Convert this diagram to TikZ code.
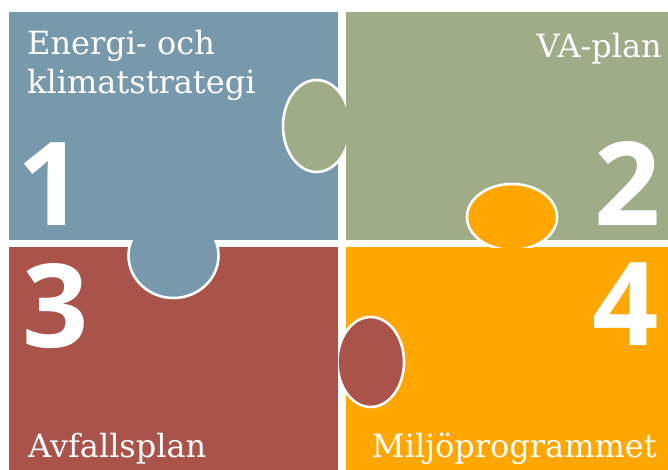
\documentclass[tikz,border=0pt]{standalone}
\usepackage{fontspec}
\setmainfont{DejaVu Serif}
\newfontfamily\digitfont{Open Sans}
\definecolor{pieceblue}{HTML}{7899AC}
\definecolor{piecegreen}{HTML}{9FAC88}
\definecolor{piecered}{HTML}{A9534A}
\definecolor{pieceorange}{HTML}{FFA600}
\begin{document}
\begin{tikzpicture}[x=1pt,y=-1pt]
\tikzstyle{every node}+=[inner sep=0pt,text=white]
\tikzstyle{knob}=[draw=white,line width=2.6pt]
\tikzstyle{title}=[font=\fontsize{32}{39}\selectfont,align=left]
\tikzstyle{digit}=[font=\digitfont\bfseries\fontsize{116}{116}\selectfont]
\useasboundingbox (0,0) rectangle (668,470);
\fill [white] (0,0) rectangle (668,470);
\fill [pieceblue] (9,12) rectangle (338,240);
\fill [piecegreen] (346,12) rectangle (668,240);
\fill [piecered] (9,247) rectangle (338,470);
\fill [pieceorange] (346,247) rectangle (668,470);
\begin{scope}
\clip (0,0) rectangle (346,470);
\draw [knob,fill=piecegreen] (316.6,126) ellipse (33.6 and 46);
\end{scope}
\begin{scope}
\clip (0,0) rectangle (668,247);
\draw [knob,fill=pieceorange] (512,217) ellipse (45 and 33);
\end{scope}
\begin{scope}
\clip (0,240) rectangle (668,470);
\draw [knob,fill=pieceblue] (173.5,255.5) ellipse (45 and 42.5);
\end{scope}
\begin{scope}
\clip (338,0) rectangle (668,470);
\draw [knob,fill=piecered] (370.7,362) ellipse (33.3 and 45);
\end{scope}
\node [title,anchor=base west] (energi) at (27,94) {Energi- och\\klimatstrategi};
\node [title,anchor=base east] (vaplan) at (662,58) {VA-plan};
\node [title,anchor=base west] (avfall) at (28,457) {Avfallsplan};
\node [title,anchor=base east] (miljo) at (657,457) {Miljöprogrammet};
\node [digit,anchor=base] (one) at (51,225) {1};
\node [digit,anchor=base] (two) at (627.5,225) {2};
\node [digit,anchor=base] (three) at (55.5,347) {3};
\node [digit,anchor=base] (four) at (625.5,345) {4};
\end{tikzpicture}
\end{document}
